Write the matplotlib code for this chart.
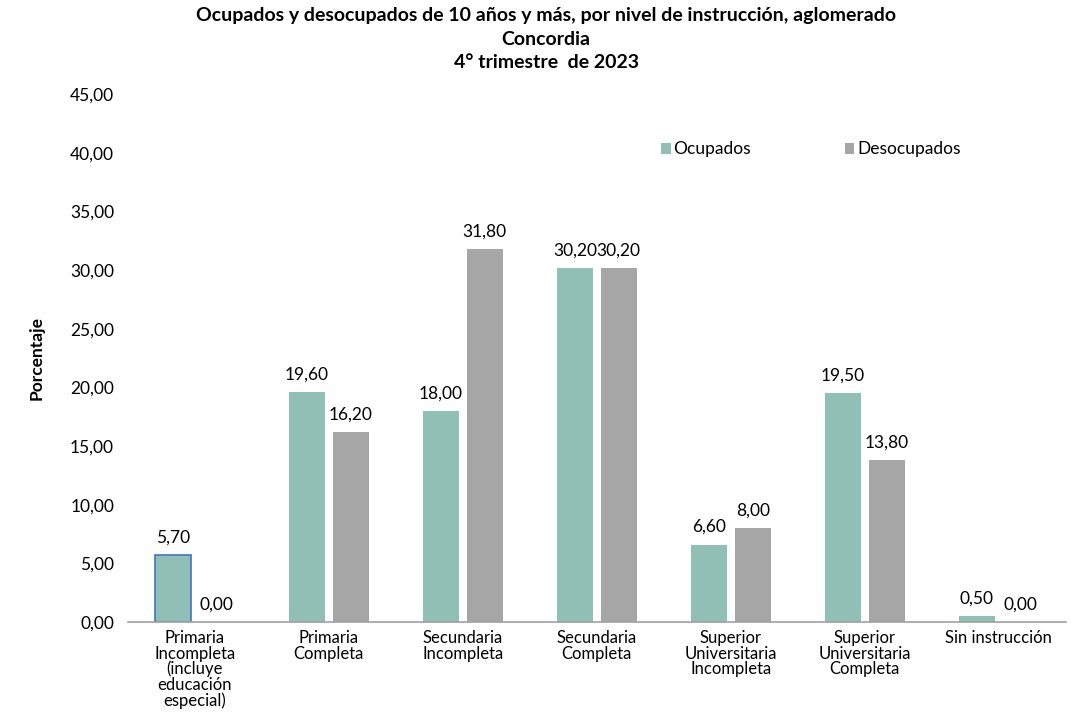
import numpy as np
import matplotlib.pyplot as plt
from matplotlib.patches import Patch

categories = ['Primaria\nIncompleta\n(incluye\neducación\nespecial)', 'Primaria\nCompleta',
              'Secundaria\nIncompleta', 'Secundaria\nCompleta',
              'Superior\nUniversitaria\nIncompleta', 'Superior\nUniversitaria\nCompleta',
              'Sin instrucción']
ocupados = [5.70, 19.60, 18.00, 30.20, 6.60, 19.50, 0.50]
desocupados = [0.00, 16.20, 31.80, 30.20, 8.00, 13.80, 0.00]
yticks = np.arange(0, 46, 5)

plt.rcParams['font.family'] = ['Lato', 'DejaVu Sans']

c_ocu = '#8FBFB5'
c_des = '#A6A6A6'

fig = plt.figure(figsize=(10.71, 7.24), dpi=100)
ax = fig.add_axes([0.1195, 0.141, 0.8755, 0.729])

x = np.arange(len(categories))
w = 0.27
off = 0.164
edges = ['#4472C4'] + ['none'] * (len(categories) - 1)
b1 = ax.bar(x - off, ocupados, w, color=c_ocu, edgecolor=edges, linewidth=1.2)
b2 = ax.bar(x + off, desocupados, w, color=c_des)

fmt = lambda v: f'{v:.2f}'.replace('.', ',')
for bars, vals in ((b1, ocupados), (b2, desocupados)):
    for b, v in zip(bars, vals):
        ax.text(b.get_x() + b.get_width() / 2, v + 0.8, fmt(v), ha='center', va='bottom', fontsize=12.5)

ax.set_xlim(-0.5, len(categories) - 0.5)
ax.set_ylim(0, 45)
ax.set_yticks(yticks)
ax.set_yticklabels([fmt(t) for t in yticks], fontsize=12.5)
ax.set_xticks(x)
ax.set_xticklabels(categories, fontsize=12, linespacing=0.95, va='top')
ax.tick_params(axis='x', length=0, pad=6)
ax.tick_params(axis='y', length=0, pad=10)
for s in ('top', 'right', 'left'):
    ax.spines[s].set_visible(False)
ax.spines['bottom'].set_color('#A0A0A0')
ax.spines['bottom'].set_linewidth(1.2)
ax.set_ylabel('Porcentaje', fontsize=12.5, fontweight='bold', labelpad=18)

handles = [Patch(facecolor=c_ocu, label='Ocupados'), Patch(facecolor=c_des, label='Desocupados')]
ax.legend(handles=handles, loc='upper left', bbox_to_anchor=(0.552, 0.94), ncol=2, frameon=False, fontsize=12.5,
          handlelength=0.55, handleheight=0.55, columnspacing=5.4, handletextpad=0.15)

fig.suptitle('Ocupados y desocupados de 10 años y más, por nivel de instrucción, aglomerado\nConcordia\n4° trimestre  de 2023',
             x=0.51, y=0.99, fontsize=14, fontweight='bold', linespacing=1.45)

fig.savefig('out.png', dpi=100)
